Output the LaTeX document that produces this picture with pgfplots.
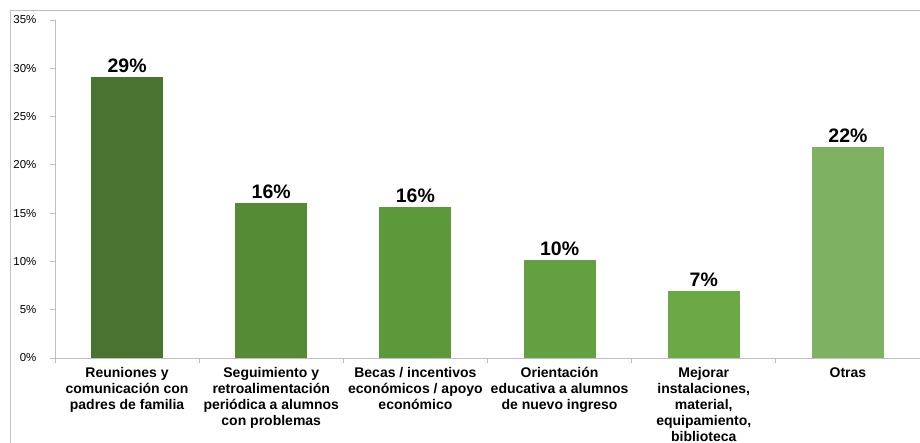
\documentclass[border=0pt]{standalone}
\usepackage{fontspec}
\setmainfont{Liberation Sans}
\usepackage{pgfplots}
\pgfplotsset{compat=1.18}

\definecolor{g1}{HTML}{4A7230}
\definecolor{g2}{HTML}{548B34}
\definecolor{g3}{HTML}{5C993A}
\definecolor{g4}{HTML}{63A040}
\definecolor{g5}{HTML}{6BA846}
\definecolor{g6}{HTML}{7EB162}
\definecolor{axgray}{HTML}{BFBFBF}

\begin{document}
\begin{tikzpicture}
\path[use as bounding box] (-55pt,-85pt) rectangle (865pt,358pt);
\draw[color=axgray, line width=0.8pt] (-45pt,-90pt) -- (-45pt,348pt) -- (870pt,348pt);
\begin{axis}[
    scale only axis,
    width=865pt, height=338pt,
    ymin=0, ymax=35,
    xmin=-0.5, xmax=5.5,
    ytick={0,5,...,35},
    yticklabel={\pgfmathprintnumber{\tick}\%},
    /pgf/number format/assume math mode=true,
    yticklabel style={font=\fontsize{11.5}{13}\selectfont, black, xshift=-10pt},
    axis lines*=left,
    axis line style={draw=axgray, line width=0.8pt, -},
    tick style={draw=axgray, line width=0.8pt},
    tick align=outside, major tick length=5pt,
    xtick={-0.5,0.5,...,5.5},
    xticklabels={},
    extra x ticks={0,1,2,3,4,5},
    extra x tick labels={
      {Reuniones y\\comunicación con\\padres de familia},
      {Seguimiento y\\retroalimentación\\periódica a alumnos\\con problemas},
      {Becas / incentivos\\económicos / apoyo\\económico},
      {Orientación\\educativa a alumnos\\de nuevo ingreso},
      {Mejorar\\instalaciones,\\material,\\equipamiento,\\biblioteca},
      {Otras}},
    extra x tick style={tick style={draw=none},
      xticklabel style={font=\fontsize{14}{16}\selectfont\bfseries, align=center, anchor=north, yshift=-1pt}},
    ybar, bar width=72pt,
    every axis plot/.append style={bar shift=0pt, draw=none},
    nodes near coords={\pgfmathprintnumber[fixed,precision=0]{\pgfplotspointmeta}\%},
    nodes near coords style={font=\fontsize{19.5}{22}\selectfont\bfseries, black, yshift=1pt},
    clip=false,
]
\addplot[fill=g1] coordinates {(0,29.1)};
\addplot[fill=g2] coordinates {(1,16.0)};
\addplot[fill=g3] coordinates {(2,15.6)};
\addplot[fill=g4] coordinates {(3,10.1)};
\addplot[fill=g5] coordinates {(4,6.9)};
\addplot[fill=g6] coordinates {(5,21.8)};
\end{axis}
\end{tikzpicture}
\end{document}
